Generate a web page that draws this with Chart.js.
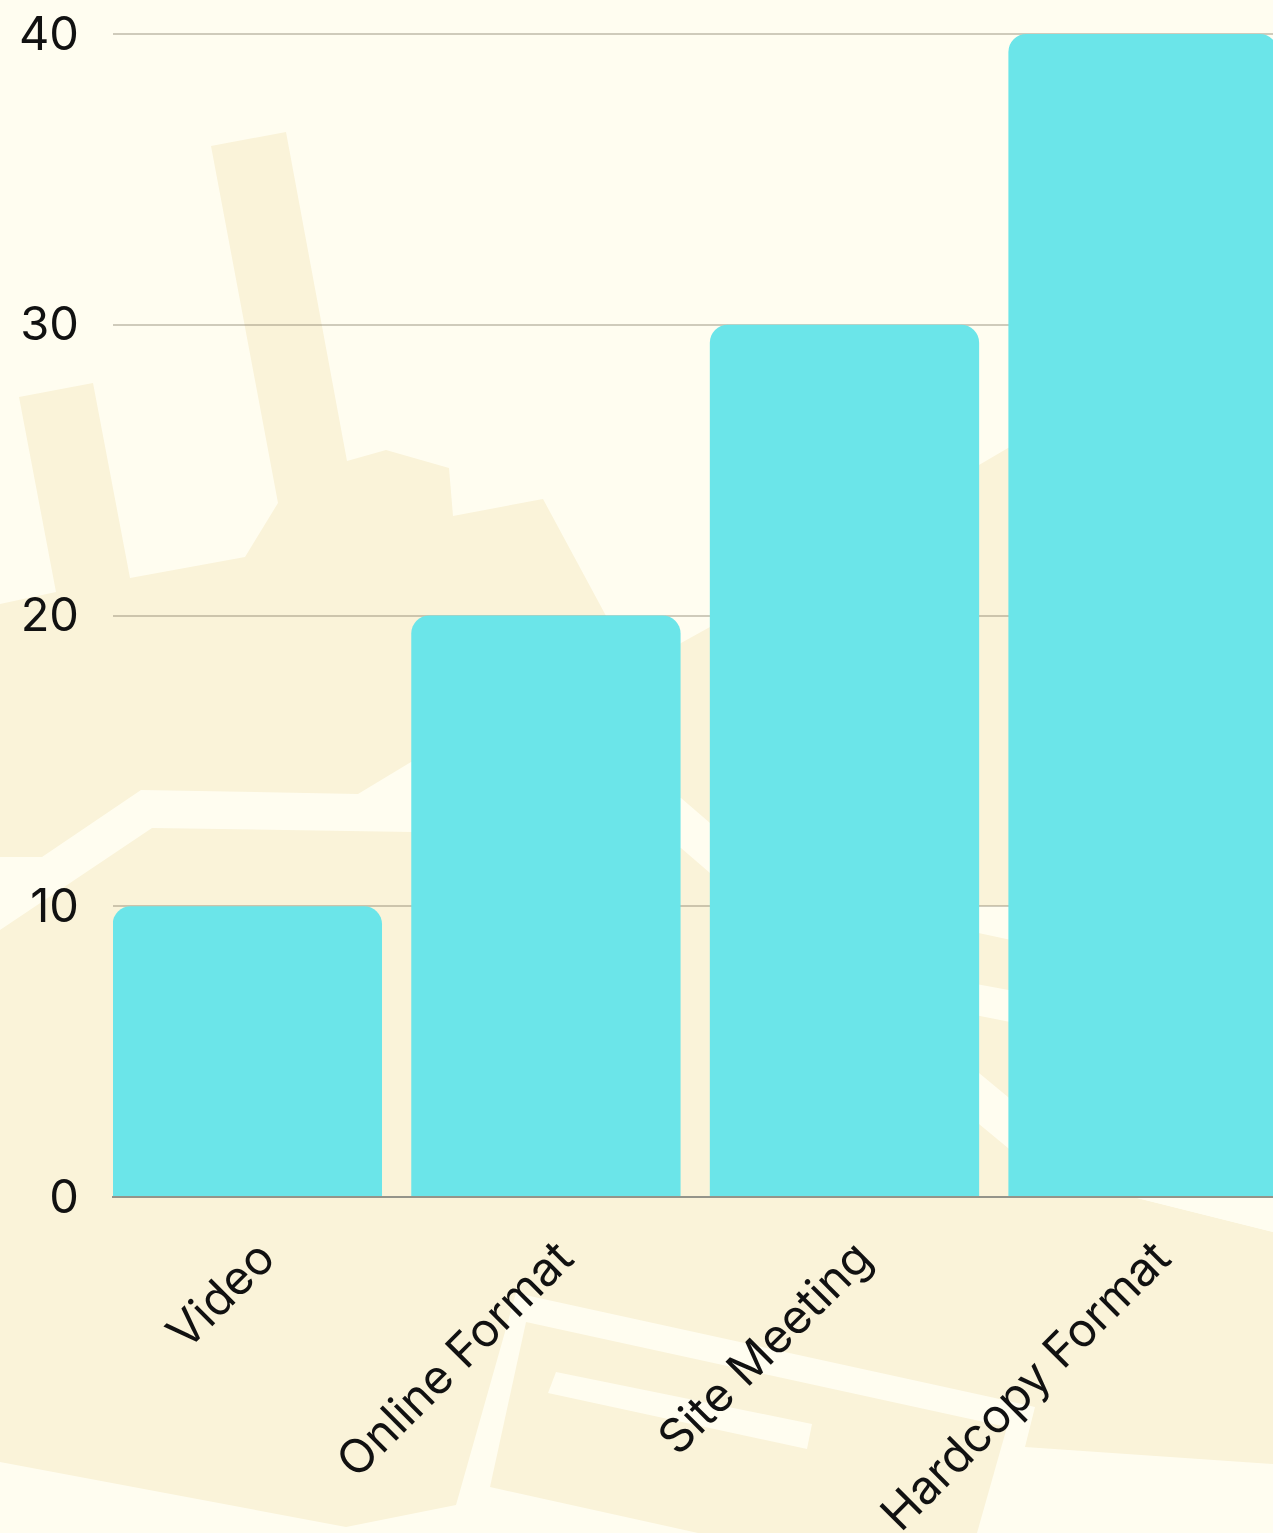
<!DOCTYPE html>
<html>
<head>
<meta charset="utf-8">
<title>Chart</title>
<script src="https://cdn.jsdelivr.net/npm/chart.js@4"></script>
<style>
    html, body { margin: 0; padding: 0; width: 1273px; height: 1533px; overflow: hidden; background: #fffdf0; }
    #map { position: absolute; left: 0; top: 0; }
    #chart { position: absolute; left: 0; top: 0; }
</style>
</head>
<body>
<!-- background map shapes -->
<svg id="map" width="1273" height="1533">
    <g fill="#faf3d9">
        <polygon points="0,604 56,592 19,397 93,383 130,578 245,557 278,503 211,146 286,132 347,461 386,450 449,468 453,516 543,499 605,614 640,679 681,643 710,627 979,465 1008,448 1060,420 1060,1180 1137,1198 1273,1232 1273,1533 0,1533" />
    </g>
    <g fill="#fffdf0">
        <!-- main road -->
        <polygon points="0,857 42,857 141,790 358,794 411,762 500,760 681,798 710,823 979,1073 1008,1097 1040,1126 1040,1178 1008,1148 979,1124 710,873 681,848 500,834 412,832 152,828 0,930" />
        <polygon points="960,906 1030,906 1030,944 960,929" />
        <polygon points="960,981 1030,994 1030,1026 960,1012" />
        <polygon points="0,1462 346,1527 456,1505 516,1293 995,1398 1035,1407 1025,1447 1273,1464 1273,1533 0,1533" />
        <polygon points="1137,1198 1273,1232 1273,1190 1137,1190" />
    </g>
    <polygon fill="#faf3d9" points="526,1322 1007,1427 977,1533 698,1533 490,1487" />
    <polygon fill="#fffdf0" points="556,1372 812,1424 807,1449 548,1393" />
</svg>
<canvas id="chart" width="1278" height="1600"></canvas>

<script>
    const categories = ["Video", "Online Format", "Site Meeting", "Hardcopy Format"];
    const seriesValues = [10, 20, 30, 40];
    const yTickValues = [0, 10, 20, 30, 40];

    const fontFamily = "Inter, 'Noto Sans', sans-serif";

    const ctx = document.getElementById("chart").getContext("2d");

    new Chart(ctx, {
        type: "bar",
        data: {
            datasets: [
                {
                    data: seriesValues.map((v, i) => ({ x: i, y: v })),
                    backgroundColor: "#6be5e9",
                    borderWidth: 0,
                    borderRadius: 18,
                    barPercentage: 0.902,
                    categoryPercentage: 1,
                },
            ],
        },
        options: {
            responsive: false,
            animation: false,
            layout: { padding: { top: 34, right: 0.6 } },
            plugins: {
                legend: { display: false },
                tooltip: { enabled: false },
            },
            scales: {
                x: {
                    type: "linear",
                    offset: false,
                    // same as a band scale with 10% padding between the bars
                    min: -0.45,
                    max: categories.length - 0.55,
                    afterBuildTicks: (scale) => {
                        scale.ticks = categories.map((c, i) => ({ value: i }));
                    },
                    afterFit: (scale) => {
                        scale.height = 403;
                        scale.paddingLeft = 0;
                        scale.paddingRight = 0;
                    },
                    grid: { display: false },
                    border: { color: "#94948a", width: 2, z: 1 },
                    ticks: {
                        autoSkip: false,
                        minRotation: 45,
                        maxRotation: 45,
                        padding: 26,
                        labelOffset: 20,
                        color: "#111111",
                        font: { family: fontFamily, size: 47 },
                        callback: (value) => categories[value],
                    },
                },
                y: {
                    min: 0,
                    max: 40,
                    afterBuildTicks: (scale) => {
                        scale.ticks = yTickValues.map((v) => ({ value: v }));
                    },
                    afterFit: (scale) => {
                        scale.width = 113;
                        scale.paddingTop = 0;
                        scale.paddingBottom = 0;
                    },
                    grid: { color: "rgba(130, 120, 100, 0.38)", lineWidth: 2, drawTicks: false },
                    border: { display: false },
                    ticks: {
                        padding: 34,
                        labelOffset: 1.5,
                        color: "#111111",
                        font: { family: fontFamily, size: 47 },
                    },
                },
            },
        },
    });
</script>
</body>
</html>
